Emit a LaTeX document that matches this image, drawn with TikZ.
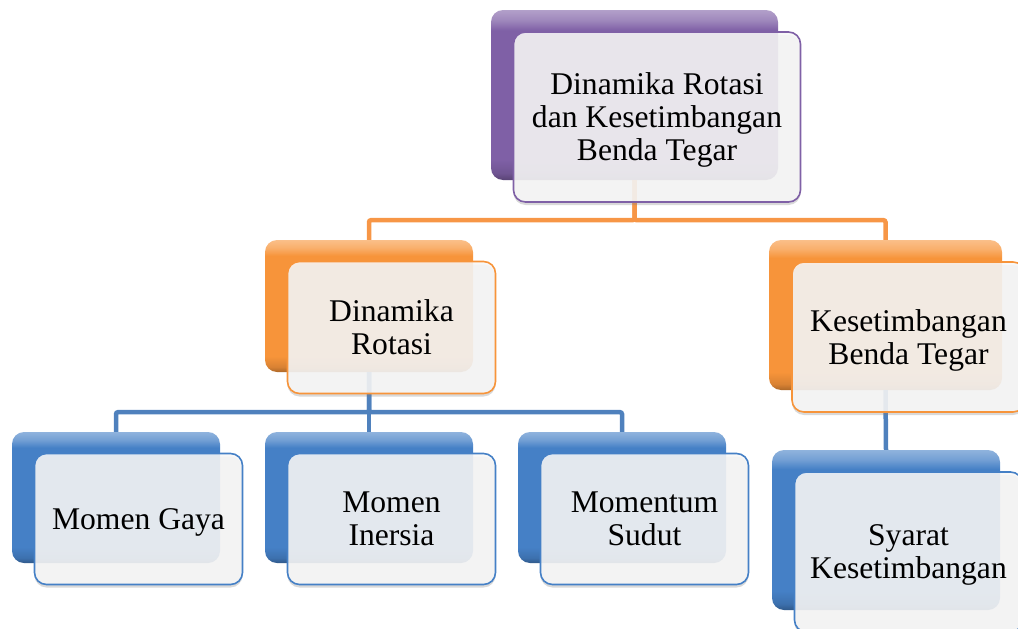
\documentclass[tikz,border=0pt]{standalone}
\usepackage{fontspec}
\setmainfont{Liberation Serif}
\usepackage{xcolor}
\usetikzlibrary{shadows}

\definecolor{chartpurple}{HTML}{7F60A6}
\definecolor{chartorange}{HTML}{F7943A}
\definecolor{chartblue}{HTML}{4580C6}
\definecolor{linkorange}{HTML}{F79646}
\definecolor{linkblue}{HTML}{4F81BD}
\colorlet{glosscol}{chartblue}

% glossy fill of the back boxes
\pgfdeclareverticalshading[glosscol]{glossy}{100bp}{color(0bp)=(glosscol!70!black);
  color(25bp)=(glosscol!70!black); color(27bp)=(glosscol!88!black);
  color(31bp)=(glosscol); color(69bp)=(glosscol); color(72bp)=(glosscol!75!white);
  color(75bp)=(glosscol!60!white); color(100bp)=(glosscol!60!white)}

\tikzset{
  backbox/.style={rectangle, rounded corners=12pt, inner sep=0pt, draw=none,
    /utils/exec={\colorlet{glosscol}{#1}}, shading=glossy},
  frontbox/.style={rectangle, rounded corners=12pt, inner sep=0pt, draw=#1,
    line width=1.6pt, fill=black!3, fill opacity=0.88, text opacity=1,
    align=center, text depth=0pt, font=\fontsize{31.6}{33}\selectfont,
    drop shadow={opacity=0.3, shadow xshift=0pt, shadow yshift=-3pt}},
  link/.style={line width=4.5pt, draw=#1, rounded corners=2pt}
}

\begin{document}
\begin{tikzpicture}[x=1pt,y=-1pt]
\useasboundingbox (0,0) rectangle (1018,629);

% back boxes
\node[backbox=chartpurple, minimum width=287pt, minimum height=170pt] (topB) at (634.5,95) {};
\node[backbox=chartorange, minimum width=208pt, minimum height=132pt] (rotB) at (369,306) {};
\node[backbox=chartorange, minimum width=233pt, minimum height=150pt] (kesB) at (885.5,315) {};
\node[backbox=chartblue, minimum width=208pt, minimum height=131pt] (gayaB) at (116,497.5) {};
\node[backbox=chartblue, minimum width=208pt, minimum height=131pt] (inersiaB) at (369,497.5) {};
\node[backbox=chartblue, minimum width=208pt, minimum height=131pt] (sudutB) at (622,497.5) {};
\node[backbox=chartblue, minimum width=228pt, minimum height=160pt] (syaratB) at (886,530) {};

% connectors
\draw[link=linkorange] (topB.south) -- ++(0,40) -| (rotB.north);
\draw[link=linkorange] (topB.south) -- ++(0,40) -| (kesB.north);
\draw[link=linkblue] (rotB.south) -- ++(0,40) -| (gayaB.north);
\draw[link=linkblue] (rotB.south) -- ++(0,40) -| (inersiaB.north);
\draw[link=linkblue] (rotB.south) -- ++(0,40) -| (sudutB.north);
\draw[link=linkblue] (kesB.south) -- (syaratB.north);

% front boxes
\node[frontbox=chartpurple, minimum width=287pt, minimum height=170pt] (top) at (657,117) {Dinamika Rotasi\\dan Kesetimbangan\\Benda Tegar};
\node[frontbox=chartorange, minimum width=208pt, minimum height=132pt] (rot) at (391.5,327.5) {Dinamika\\Rotasi};
\node[frontbox=chartorange, minimum width=233pt, minimum height=150pt] (kes) at (908.5,337) {Kesetimbangan\\Benda Tegar};
\node[frontbox=chartblue, minimum width=208pt, minimum height=131pt] (gaya) at (138.5,519) {Momen Gaya};
\node[frontbox=chartblue, minimum width=208pt, minimum height=131pt] (inersia) at (391.5,519) {Momen\\Inersia};
\node[frontbox=chartblue, minimum width=208pt, minimum height=131pt] (sudut) at (644.5,519) {Momentum\\Sudut};
\node[frontbox=chartblue, minimum width=228pt, minimum height=160pt] (syarat) at (908.5,552) {Syarat\\Kesetimbangan};
\end{tikzpicture}
\end{document}
